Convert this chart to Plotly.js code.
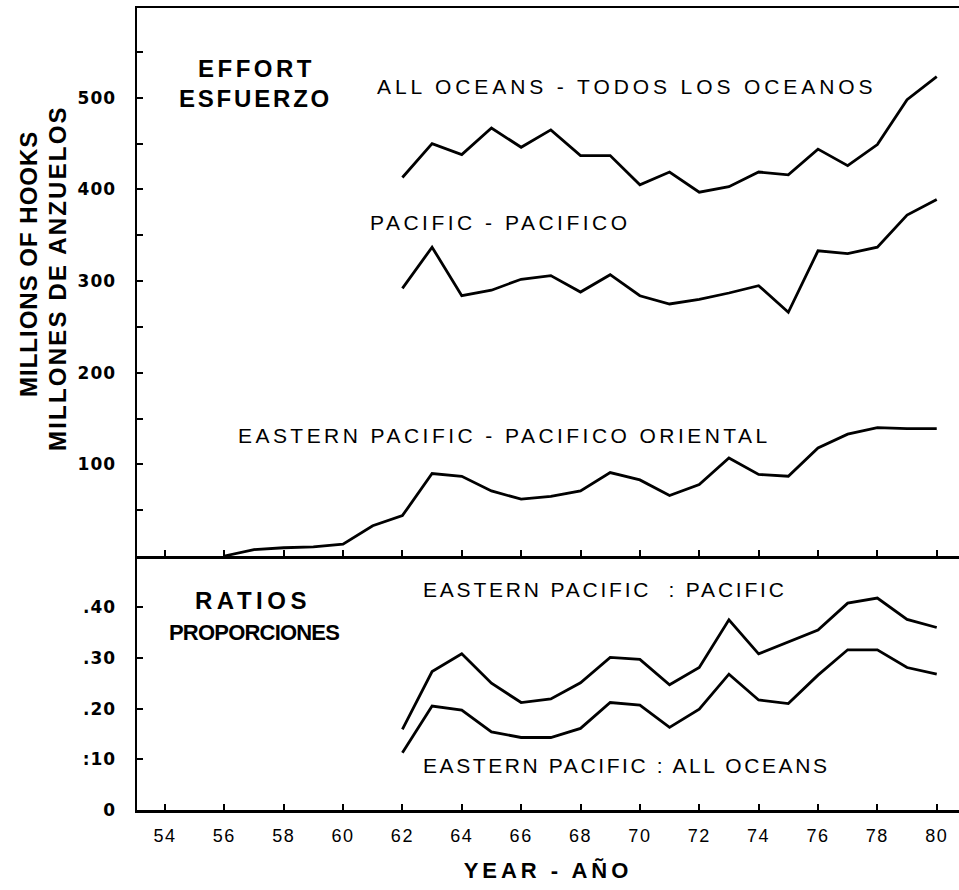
<!DOCTYPE html>
<html>
<head>
<meta charset="utf-8">
<script src="https://cdn.plot.ly/plotly-3.0.1.min.js"></script>
<style>
  html, body { margin: 0; padding: 0; background: #ffffff; }
  #chart { width: 959px; height: 890px; }
</style>
</head>
<body>
<div id="chart"></div>
<script>
// ---------------- DATA ----------------
var yearsMain = [62,63,64,65,66,67,68,69,70,71,72,73,74,75,76,77,78,79,80];
var yearsEastern = [56,57,58,59,60,61,62,63,64,65,66,67,68,69,70,71,72,73,74,75,76,77,78,79,80];

// Effort, millions of hooks
var allOceans = [413,450,438,467,446,465,437,437,405,419,397,403,419,416,444,426,449,498,523];
var pacific   = [292,337,284,290,302,306,288,307,284,275,280,287,295,266,333,330,337,372,389];
var easternPacific = [0,7,9,10,13,33,44,90,87,71,62,65,71,91,83,66,78,107,89,87,118,133,140,139,139];

// Ratios
var ratioEPtoPacific = [0.159,0.273,0.308,0.250,0.212,0.219,0.251,0.301,0.297,0.247,0.281,0.375,0.308,0.331,0.355,0.408,0.418,0.376,0.360];
var ratioEPtoAll     = [0.113,0.205,0.197,0.154,0.143,0.143,0.161,0.212,0.207,0.163,0.199,0.268,0.217,0.210,0.266,0.316,0.316,0.281,0.268];

// Ticks
var xTickVals = [54,56,58,60,62,64,66,68,70,72,74,76,78,80];
var xTickText = ["54","56","58","60","62","64","66","68","70","72","74","76","78","80"];
var effortTickVals = [50,100,150,200,250,300,350,400,450,500,550];
var effortTickText = ["","100","","200","","300","","400","","500",""];
var ratioTickVals = [0,0.1,0.2,0.3,0.4];
var ratioTickText = ["0",":10",".20",".30",".40"];

// Text labels
var seriesLabels = {
  all: "ALL OCEANS - TODOS LOS OCEANOS",
  pac: "PACIFIC - PACIFICO",
  ep: "EASTERN PACIFIC - PACIFICO ORIENTAL",
  r1: "EASTERN PACIFIC  : PACIFIC",
  r2: "EASTERN PACIFIC : ALL OCEANS"
};

// ---------------- HELPERS ----------------
function spaced(t, px) { return '<span style="letter-spacing:' + px + 'px">' + t + '</span>'; }

var W = 959, H = 890;
var mL = 137, mR = 0, mT = 8, mB = 80;
var plotW = W - mL - mR, plotH = H - mT - mB;
function px(x) { return (x - mL) / plotW; }
function py(y) { return (H - mB - y) / plotH; }
var split = py(556);

var lineStyle = {color: '#000000', width: 2.8};

var traces = [
  {x: yearsMain, y: allOceans, xaxis: 'x2', yaxis: 'y2', mode: 'lines', line: lineStyle, name: 'All oceans'},
  {x: yearsMain, y: pacific, xaxis: 'x2', yaxis: 'y2', mode: 'lines', line: lineStyle, name: 'Pacific'},
  {x: yearsEastern, y: easternPacific, xaxis: 'x2', yaxis: 'y2', mode: 'lines', line: lineStyle, name: 'Eastern Pacific'},
  {x: yearsMain, y: ratioEPtoPacific, xaxis: 'x', yaxis: 'y', mode: 'lines', line: lineStyle, name: 'EP:Pacific'},
  {x: yearsMain, y: ratioEPtoAll, xaxis: 'x', yaxis: 'y', mode: 'lines', line: lineStyle, name: 'EP:All'}
];

var FAM = 'Liberation Sans, Arial, sans-serif';
var labelFont = {family: FAM, size: 21, color: '#000'};
var boldFont = {family: FAM, size: 24, color: '#000', weight: 'bold'};
var boldFontMid = {family: FAM, size: 22, color: '#000', weight: 'bold'};

function ann(text, x, y, font) {
  return {text: text, xref: 'paper', yref: 'paper', x: px(x), y: py(y),
          xanchor: 'center', yanchor: 'middle', showarrow: false, font: font};
}

var annotations = [
  ann(spaced('EFFORT', 3.5), 256, 68, boldFont),
  ann(spaced('ESFUERZO', 2.8), 255, 99, boldFont),
  ann(spaced('RATIOS', 4.5), 253, 600, boldFont),
  ann(spaced('PROPORCIONES', -0.8), 254, 632, boldFontMid),
  ann(spaced(seriesLabels.all, 3.9), 626, 86, labelFont),
  ann(spaced(seriesLabels.pac, 3.5), 500, 222, labelFont),
  ann(spaced(seriesLabels.ep, 3.45), 504, 435, labelFont),
  ann(spaced(seriesLabels.r1, 2.8), 605, 589, labelFont),
  ann(spaced(seriesLabels.r2, 2.6), 626, 765, labelFont),
  {text: spaced('MILLIONS OF HOOKS', 1), xref: 'paper', yref: 'paper', x: px(28), y: py(264),
   xanchor: 'center', yanchor: 'middle', showarrow: false, textangle: -90,
   font: {family: FAM, size: 24, color: '#000', weight: 'bold'}},
  {text: spaced('MILLONES DE ANZUELOS', 2.2), xref: 'paper', yref: 'paper', x: px(57), y: py(278),
   xanchor: 'center', yanchor: 'middle', showarrow: false, textangle: -90,
   font: {family: FAM, size: 24, color: '#000', weight: 'bold'}}
];

var xCommon = {
  range: [53.06, 80.75], tickvals: xTickVals, ticks: 'inside', ticklen: 6, tickwidth: 2,
  tickcolor: '#000', showline: true, linecolor: '#000', linewidth: 2.5, showgrid: false,
  zeroline: false, fixedrange: true
};

var yTickFont = {family: 'DejaVu Sans, sans-serif', size: 17, color: '#000', weight: 'bold'};

var layout = {
  width: W, height: H,
  margin: {l: mL, r: mR, t: mT, b: mB, pad: 0},
  paper_bgcolor: '#ffffff', plot_bgcolor: '#ffffff',
  showlegend: false,
  xaxis: Object.assign({}, xCommon, {
    anchor: 'y', domain: [0, 1],
    ticktext: xTickText.map(function (t) { return spaced(t, 1.5); }),
    tickfont: {family: FAM, size: 18, color: '#000'},
    ticklabelstandoff: 8,
    title: {text: spaced('YEAR - AÑO', 4), standoff: 18,
            font: {family: FAM, size: 22, color: '#000', weight: 'bold'}}
  }),
  xaxis2: Object.assign({}, xCommon, {
    anchor: 'y2', domain: [0, 1], matches: 'x', showticklabels: false, mirror: true
  }),
  yaxis: {
    anchor: 'x', domain: [0, split], range: [0, 0.501],
    tickvals: ratioTickVals,
    ticktext: ratioTickText.map(function (t) { return spaced(t, 1); }),
    ticks: 'inside', ticklen: 6, tickwidth: 2, tickcolor: '#000',
    showline: true, linecolor: '#000', linewidth: 2.5, showgrid: false, zeroline: false,
    tickfont: yTickFont, ticklabelstandoff: 15, fixedrange: true
  },
  yaxis2: {
    anchor: 'x2', domain: [split, 1], range: [0, 598],
    tickvals: effortTickVals,
    ticktext: effortTickText.map(function (t) { return spaced(t, 1); }),
    ticks: 'inside', ticklen: 6, tickwidth: 2, tickcolor: '#000',
    showline: true, linecolor: '#000', linewidth: 2.5, showgrid: false, zeroline: false,
    tickfont: yTickFont, ticklabelstandoff: 15, fixedrange: true
  },
  annotations: annotations
};

Plotly.newPlot('chart', traces, layout, {staticPlot: true, displayModeBar: false});
</script>
</body>
</html>
